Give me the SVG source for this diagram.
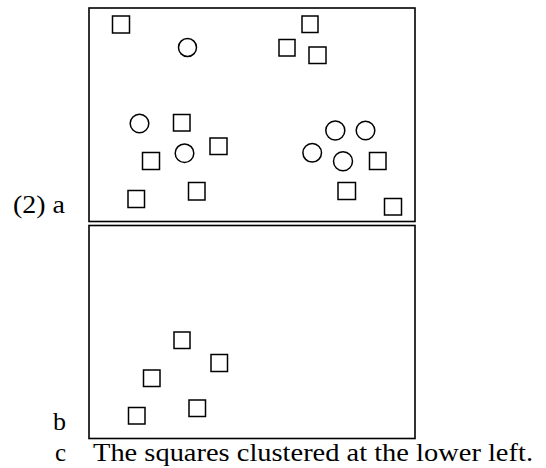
<svg xmlns="http://www.w3.org/2000/svg" width="546" height="468" viewBox="0 0 546 468">
<style>
.frame{fill:none;stroke:#000;stroke-width:1.6}
.sq{fill:#fff;stroke:#000;stroke-width:1.5}
.ci{fill:#fff;stroke:#000;stroke-width:1.5}
.t{font-family:"Liberation Serif","Times New Roman",serif;font-size:26px;fill:#000}
.cap{font-size:25px}
</style>
<rect width="546" height="468" fill="#fff"/>
<g id="panel-a">
<rect class="frame" x="89" y="8" width="326" height="213.5"/>
<rect class="sq" x="112.5" y="16" width="17" height="17"/>
<rect class="sq" x="302" y="16" width="16" height="16.5"/>
<rect class="sq" x="279" y="39.5" width="16" height="16.5"/>
<rect class="sq" x="309" y="47" width="17" height="16.5"/>
<circle class="ci" cx="187.5" cy="47.5" r="9"/>
<circle class="ci" cx="139.5" cy="123.5" r="9.3"/>
<rect class="sq" x="173.5" y="114.5" width="16.5" height="16.5"/>
<rect class="sq" x="210" y="138" width="17" height="16.5"/>
<circle class="ci" cx="184.5" cy="153.2" r="9.3"/>
<rect class="sq" x="142.5" y="152.5" width="17" height="17"/>
<rect class="sq" x="128" y="190.5" width="16.5" height="17"/>
<rect class="sq" x="188.5" y="182.5" width="16.5" height="17.5"/>
<circle class="ci" cx="335.3" cy="130.5" r="9.5"/>
<circle class="ci" cx="365.5" cy="130.5" r="9.3"/>
<circle class="ci" cx="312.2" cy="152.8" r="9.3"/>
<circle class="ci" cx="343" cy="161.2" r="9.5"/>
<rect class="sq" x="369.5" y="152.5" width="16.5" height="17"/>
<rect class="sq" x="338" y="182.5" width="17.5" height="17"/>
<rect class="sq" x="384.5" y="198.5" width="17" height="16.5"/>
</g>
<g id="panel-b">
<rect class="frame" x="89" y="225.5" width="326" height="213"/>
<rect class="sq" x="174" y="332" width="16" height="16.5"/>
<rect class="sq" x="211" y="354.5" width="16.5" height="17"/>
<rect class="sq" x="143.5" y="370" width="16.5" height="16.5"/>
<rect class="sq" x="128.5" y="407.5" width="16.5" height="16.5"/>
<rect class="sq" x="189" y="400" width="16.5" height="16.5"/>
</g>
<g id="labels">
<text class="t" x="13" y="213" textLength="52" lengthAdjust="spacingAndGlyphs">(2) a</text>
<text class="t" x="53" y="430">b</text>
<text class="t cap" x="55" y="461">c</text>
<text class="t cap" x="93" y="461" textLength="440" lengthAdjust="spacingAndGlyphs">The squares clustered at the lower left.</text>
</g>
</svg>
